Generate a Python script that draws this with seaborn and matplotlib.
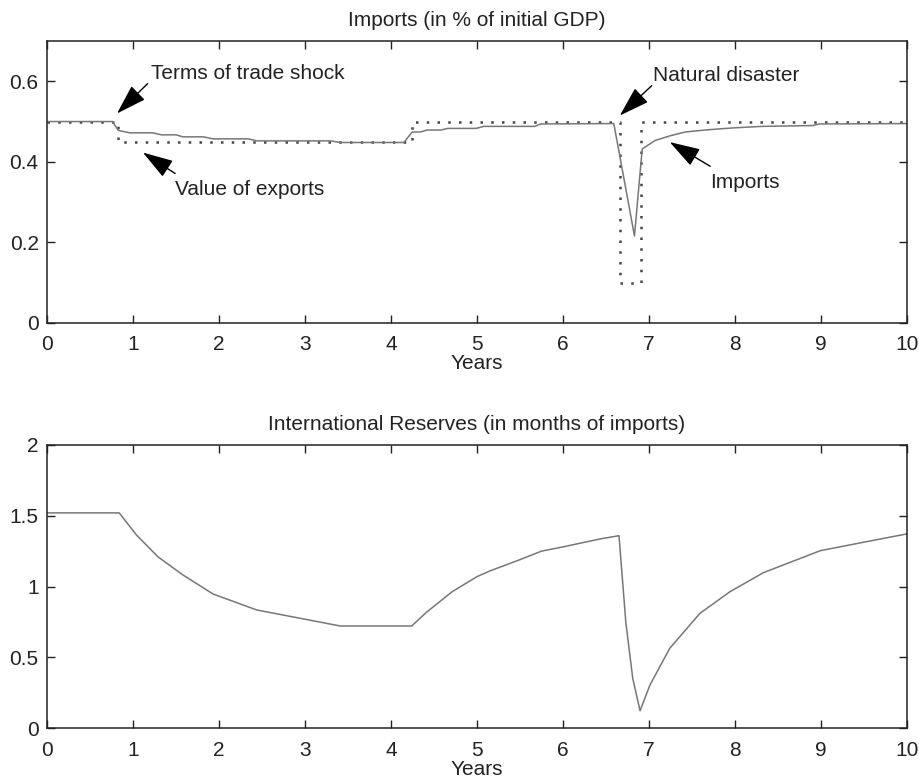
import matplotlib
matplotlib.use("Agg")
import matplotlib.pyplot as plt
import seaborn as sns

sns.set_theme(style="ticks")
plt.rcParams["font.family"] = ["Liberation Sans", "DejaVu Sans"]

# ── data ─────────────────────────────────────────────────────────────────────
imp_x = [0, 0.76, 0.83, 0.96, 1.23, 1.33, 1.50, 1.58, 1.82, 1.93, 2.34, 2.44,
         3.30, 3.41, 4.15, 4.245, 4.34, 4.42, 4.58, 4.66, 4.99, 5.08, 5.67,
         5.74, 6.59, 6.83, 6.92, 7.07, 7.25, 7.42, 7.65, 7.96, 8.31, 8.90,
         8.98, 10]
imp_y = [0.5, 0.5, 0.478, 0.472, 0.472, 0.467, 0.467, 0.462, 0.462, 0.457,
         0.457, 0.452, 0.452, 0.448, 0.448, 0.474, 0.474, 0.479, 0.479, 0.483,
         0.483, 0.488, 0.488, 0.494, 0.495, 0.216, 0.432, 0.453, 0.465, 0.474,
         0.479, 0.484, 0.488, 0.490, 0.494, 0.495]

exp_x = [0, 0.83, 0.83, 4.245, 4.245, 6.66, 6.66, 6.91, 6.91, 10]
exp_y = [0.5, 0.5, 0.45, 0.45, 0.5, 0.5, 0.1, 0.1, 0.5, 0.5]

res_x = [0, 0.84, 1.04, 1.29, 1.57, 1.93, 2.44, 3.41, 4.24, 4.42, 4.71, 5.0,
         5.15, 5.5, 5.75, 6.0, 6.43, 6.65, 6.73, 6.81, 6.895, 7.01, 7.24, 7.59,
         7.94, 8.33, 8.99, 9.53, 10]
res_y = [1.52, 1.52, 1.364, 1.21, 1.086, 0.947, 0.834, 0.721, 0.721, 0.822,
         0.963, 1.07, 1.11, 1.19, 1.25, 1.28, 1.336, 1.359, 0.744, 0.351,
         0.122, 0.304, 0.563, 0.81, 0.963, 1.098, 1.253, 1.317, 1.372]

# labels: (text, text x, text baseline y, arrow tail, arrow tip)
notes = [
    ("Terms of trade shock", 1.21, 0.606, (1.17, 0.594), (0.814, 0.52)),
    ("Value of exports", 1.49, 0.317, (1.49, 0.371), (1.116, 0.423)),
    ("Natural disaster", 7.04, 0.601, (7.03, 0.589), (6.66, 0.515)),
    ("Imports", 7.71, 0.335, (7.71, 0.389), (7.24, 0.449)),
]

x_ticks = list(range(0, 11))
imp_yticks = [0, 0.2, 0.4, 0.6]
res_yticks = [0, 0.5, 1, 1.5, 2]

FS = 15
INK = "#222222"
LINE = "#777777"
DOT = "#444444"


def style_axes(ax, yticks, ylim, title):
    ax.set_xlim(0, 10)
    ax.set_ylim(*ylim)
    ax.set_xticks(x_ticks)
    ax.set_xticklabels([str(t) for t in x_ticks])
    ax.set_yticks(yticks)
    ax.set_yticklabels([f"{t:g}" for t in yticks])
    ax.tick_params(direction="in", top=True, right=True, length=6, width=1,
                   labelsize=FS, colors=INK)
    ax.tick_params(axis="x", pad=9)
    ax.tick_params(axis="y", pad=6)
    for s in ax.spines.values():
        s.set_visible(True)
        s.set_linewidth(1.1)
        s.set_color(INK)
    ax.set_xlabel("Years", fontsize=FS, labelpad=0, color=INK)
    ax.set_ylabel("")
    ax.set_title(title, fontsize=FS, pad=11, color=INK)


fig = plt.figure(figsize=(9.19, 7.82), dpi=100)
ax1 = fig.add_axes([0.0511, 0.587, 0.936, 0.3606])
ax2 = fig.add_axes([0.0511, 0.069, 0.936, 0.362])

# ── top panel ────────────────────────────────────────────────────────────────
sns.lineplot(x=exp_x, y=exp_y, estimator=None, sort=False, ax=ax1,
             color=DOT, lw=1.8)
ax1.lines[-1].set_dashes([1, 3.3])
sns.lineplot(x=imp_x, y=imp_y, estimator=None, sort=False, ax=ax1,
             color=LINE, lw=1.1)
style_axes(ax1, imp_yticks, (0, 0.7), "Imports (in % of initial GDP)")

arrow = dict(arrowstyle="-|>,head_length=0.95,head_width=0.3",
             color="black", lw=1.0, mutation_scale=20, shrinkA=0, shrinkB=0)
for text, tx, ty, tail, tip in notes:
    ax1.text(tx, ty, text, fontsize=FS, ha="left", va="baseline", color=INK)
    ax1.annotate("", xy=tip, xytext=tail, arrowprops=arrow)

# ── bottom panel ─────────────────────────────────────────────────────────────
sns.lineplot(x=res_x, y=res_y, estimator=None, sort=False, ax=ax2,
             color=LINE, lw=1.1)
style_axes(ax2, res_yticks, (0, 2), "International Reserves (in months of imports)")

plt.savefig("out.png", dpi=100)
plt.close()
